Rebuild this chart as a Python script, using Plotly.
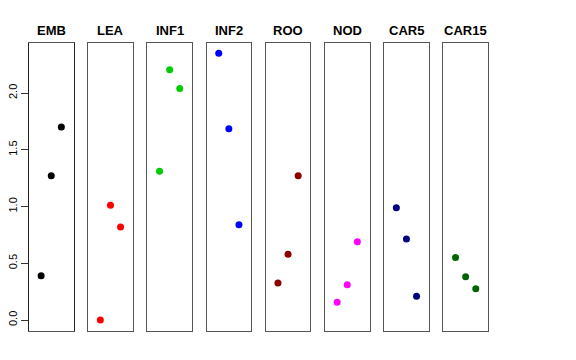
import plotly.graph_objects as go

panels = ["EMB", "LEA", "INF1", "INF2", "ROO", "NOD", "CAR5", "CAR15"]
colors = ["#000000", "#FF0000", "#00CD00", "#0000FF", "#8B0000", "#FF00FF", "#000080", "#006400"]
positions = [1, 2, 3]
values = [
    [0.39, 1.27, 1.70],
    [0.00, 1.01, 0.82],
    [1.31, 2.205, 2.04],
    [2.35, 1.685, 0.84],
    [0.326, 0.58, 1.27],
    [0.156, 0.31, 0.69],
    [0.99, 0.714, 0.21],
    [0.55, 0.38, 0.276],
]
y_ticks = [0.0, 0.5, 1.0, 1.5, 2.0]
y_ticklabels = ["0.0", "0.5", "1.0", "1.5", "2.0"]

OFF = 8  # page body margin
W, H = 576 - OFF, 360 - OFF
left0, pw, step = 29.0 - OFF, 44.5, 59.2
top_px, bot_px = 43.0 - OFF, 331.0 - OFF
title_px = 30.0 - OFF
yrange = [-0.0969, 2.4405]

fig = go.Figure()
layout = dict(
    width=W, height=H, margin=dict(l=0, r=0, t=0, b=0, autoexpand=False),
    paper_bgcolor="white", plot_bgcolor="white", showlegend=False,
    font=dict(family="Liberation Sans, Arial, sans-serif", color="black"),
)
annotations = []
for i, (name, col, vals) in enumerate(zip(panels, colors, values)):
    n = "" if i == 0 else str(i + 1)
    x0 = (left0 + i * step) / W
    x1 = (left0 + i * step + pw) / W
    fig.add_trace(go.Scatter(
        x=positions, y=vals, mode="markers",
        marker=dict(color=col, size=7, line=dict(width=0)),
        xaxis="x" + n, yaxis="y" + n, hoverinfo="skip",
    ))
    layout["xaxis" + n] = dict(
        domain=[x0, x1], range=[-0.2, 4.2], showgrid=False, zeroline=False,
        showticklabels=False, ticks="", showline=True, mirror=True,
        linecolor="#555555", linewidth=1, anchor="y" + n, automargin=False,
    )
    ya = dict(
        domain=[1 - bot_px / H, 1 - top_px / H], range=yrange, showgrid=False,
        zeroline=False, showline=True, mirror=True, linecolor="#555555",
        linewidth=1, anchor="x" + n, automargin=False,
    )
    if i == 0:
        ya.update(
            tickmode="array", tickvals=y_ticks, ticktext=y_ticklabels,
            ticks="outside", ticklen=7, tickcolor="#333333", tickangle=-90,
            tickfont=dict(size=11, color="black"), linecolor="#222222",
        )
    else:
        ya.update(showticklabels=False, ticks="")
    layout["yaxis" + n] = ya
    annotations.append(dict(
        text="<b>" + name + "</b>", x=(x0 + x1) / 2, y=1 - title_px / H,
        xref="paper", yref="paper", xanchor="center", yanchor="middle",
        showarrow=False, font=dict(size=13, color="black"),
    ))
layout["annotations"] = annotations
fig.update_layout(**layout)
fig.write_html("out.html")
